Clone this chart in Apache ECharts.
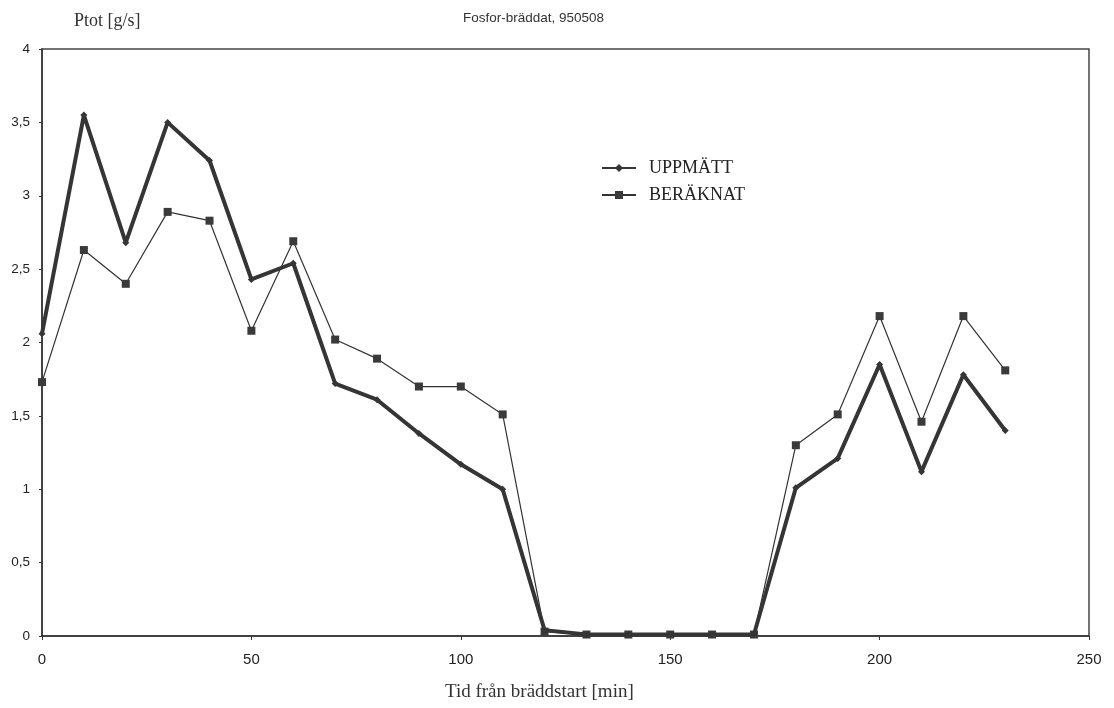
<!DOCTYPE html>
<html>
<head>
<meta charset="utf-8">
<script src="https://cdn.jsdelivr.net/npm/echarts@6/dist/echarts.min.js"></script>
<style>html,body{margin:0;padding:0;background:#fff;}#c{width:1114px;height:708px;}</style>
</head>
<body>
<div id="c"></div>
<script>
const times = [0,10,20,30,40,50,60,70,80,90,100,110,120,130,140,150,160,170,180,190,200,210,220,230];
const uppmatt = [2.06,3.55,2.68,3.50,3.24,2.43,2.54,1.72,1.61,1.38,1.17,1.00,0.04,0.01,0.01,0.01,0.01,0.01,1.01,1.21,1.85,1.12,1.78,1.40];
const beraknat = [1.73,2.63,2.40,2.89,2.83,2.08,2.69,2.02,1.89,1.70,1.70,1.51,0.03,0.01,0.01,0.01,0.01,0.01,1.30,1.51,2.18,1.46,2.18,1.81];
const xTicks = [0,50,100,150,200,250];
const yTicks = [0,0.5,1,1.5,2,2.5,3,3.5,4];

const chart = echarts.init(document.getElementById('c'));
const serif = "'Liberation Serif', 'DejaVu Serif', serif";
const sans = "'Liberation Sans', Arial, sans-serif";
chart.setOption({
  animation: false,
  backgroundColor: '#fff',
  title: [
    {text: 'Ptot [g/s]', left: 69, top: 7, textStyle: {fontFamily: serif, fontSize: 18, fontWeight: 'normal', color: '#333'}},
    {text: 'Fosfor-bräddat, 950508', left: 458, top: 6, textStyle: {fontFamily: sans, fontSize: 13.5, fontWeight: 'normal', color: '#333'}},
    {text: 'Tid från bräddstart [min]', left: 440, top: 678, textStyle: {fontFamily: serif, fontSize: 19, fontWeight: 'normal', color: '#333'}}
  ],
  legend: {
    orient: 'vertical', left: 596, top: 154, itemGap: 9, itemWidth: 34, itemHeight: 10,
    textStyle: {fontFamily: serif, fontSize: 18, color: '#222', padding: [0, 0, 0, 8]},
    data: ['UPPMÄTT', 'BERÄKNAT']
  },
  grid: {left: 42, right: 25, top: 49, bottom: 72, show: true, borderColor: '#444', borderWidth: 1.5, backgroundColor: 'transparent'},
  xAxis: {
    type: 'value', min: 0, max: 250, interval: 50,
    axisLine: {lineStyle: {color: '#333', width: 1.5}},
    axisTick: {show: true, length: 4, lineStyle: {color: '#333'}},
    splitLine: {show: false},
    axisLabel: {fontFamily: sans, fontSize: 15, color: '#222', margin: 16,
      formatter: v => xTicks.includes(v) ? String(v) : ''}
  },
  yAxis: {
    type: 'value', min: 0, max: 4, interval: 0.5,
    axisLine: {show: true, lineStyle: {color: '#333', width: 1.5}},
    axisTick: {show: true, length: 3, lineStyle: {color: '#333'}},
    splitLine: {show: false},
    axisLabel: {fontFamily: sans, fontSize: 13.5, color: '#222', margin: 12,
      formatter: v => yTicks.includes(v) ? String(v).replace('.', ',') : ''}
  },
  series: [
    {
      name: 'UPPMÄTT', type: 'line',
      data: times.map((t, i) => [t, uppmatt[i]]),
      symbol: 'diamond', symbolSize: 7, showSymbol: true,
      lineStyle: {color: '#353535', width: 4},
      itemStyle: {color: '#353535'}, z: 3
    },
    {
      name: 'BERÄKNAT', type: 'line',
      data: times.map((t, i) => [t, beraknat[i]]),
      symbol: 'rect', symbolSize: 8, showSymbol: true,
      lineStyle: {color: '#333', width: 1.2},
      itemStyle: {color: '#3a3a3a'}, z: 2
    }
  ]
});
</script>
</body>
</html>
